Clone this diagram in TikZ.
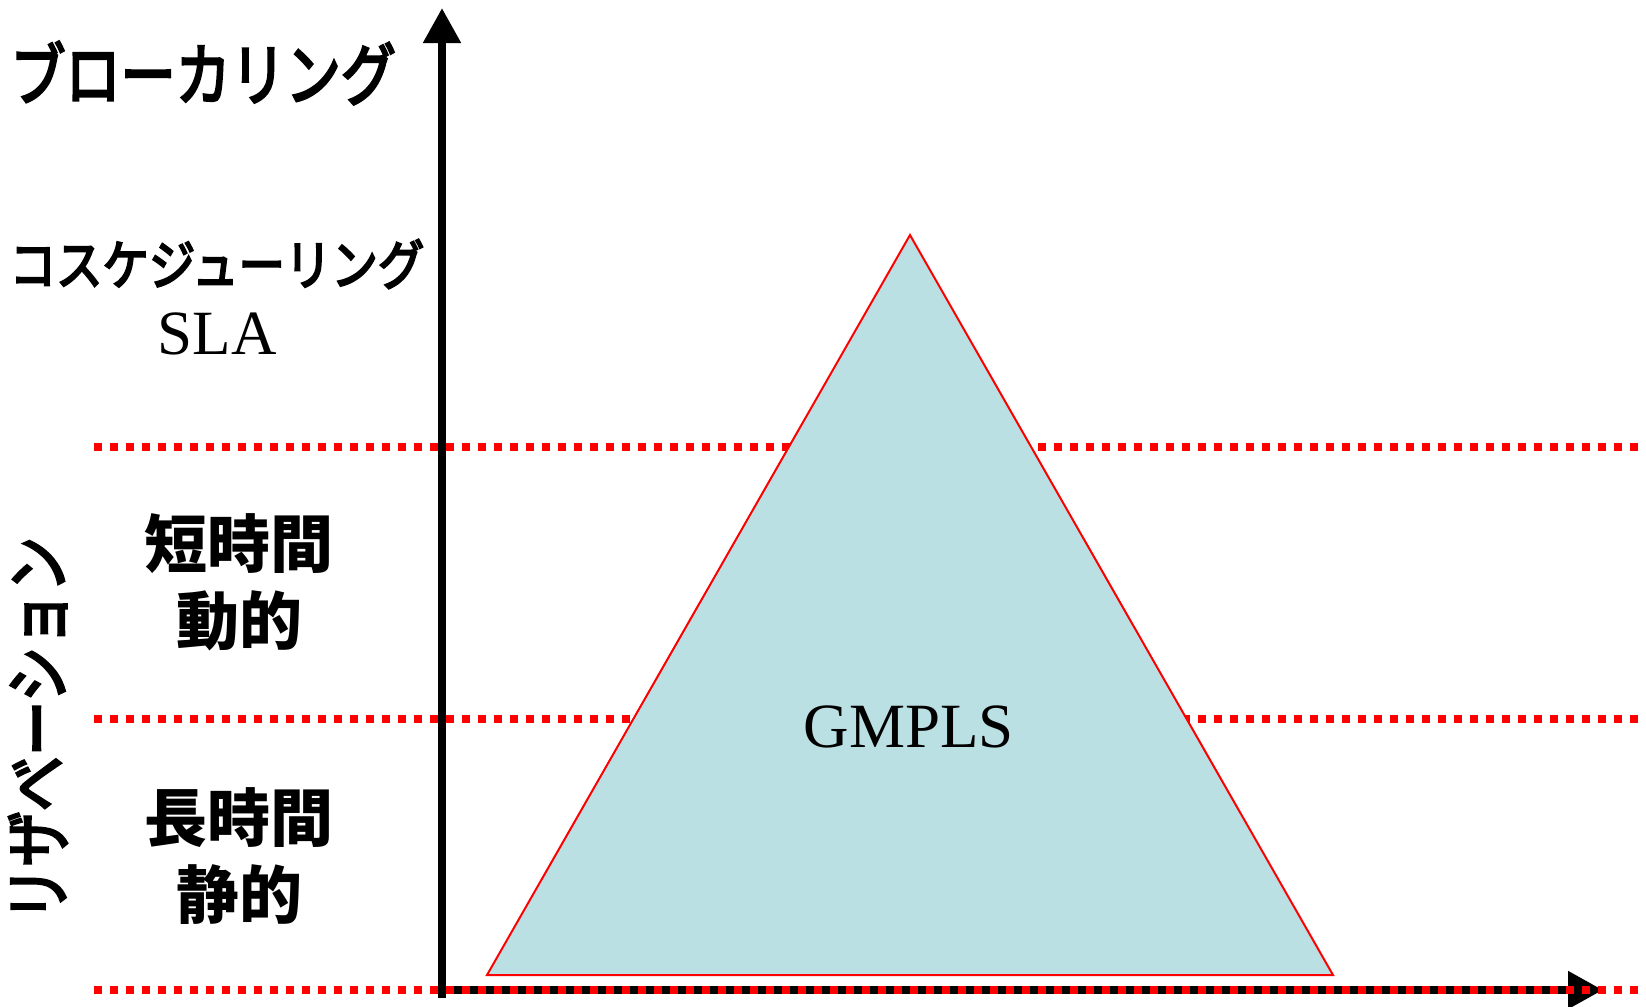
\documentclass[tikz,border=0pt]{standalone}
\usepackage{graphicx}
\usepackage{fontspec}
\setmainfont{Liberation Serif}
\newfontfamily\jp{Noto Sans CJK JP}
\newfontface\jpk{Noto Sans CJK JP}[FakeBold=4]
\usetikzlibrary{arrows.meta}

\definecolor{pyramidfill}{RGB}{187,224,227}
\definecolor{bandred}{RGB}{255,0,0}

% katakana set tall and narrow
\newcommand{\narrowkana}[2]{\scalebox{#1}[1]{#2}}

\begin{document}
\begin{tikzpicture}[x=0.5pt,y=-0.5pt,
  axis/.style={line width=4pt,draw=black,-{Triangle[width=18pt,length=17.5pt]}},
  bandline/.style={line width=3.7pt,draw=bandred,dash pattern=on 4pt off 4pt},
  pyramid/.style={fill=pyramidfill,draw=bandred,line width=1pt,line join=miter},
  jplabel/.style={inner sep=0pt,font=\jpk\fontsize{34}{40}\selectfont},
  jpsmall/.style={inner sep=0pt,font=\jpk\fontsize{27}{32}\selectfont},
  kanji/.style={inner sep=0pt,align=center,font=\jp\bfseries\fontsize{31.5}{38.5}\selectfont},
  latin/.style={inner sep=0pt,font=\fontsize{31.5}{38}\selectfont}]

\useasboundingbox (0,0) rectangle (1646,1007);

% axes corner and tips
\coordinate (origin) at (442,990);
\coordinate (xstart) at (438,990);
\coordinate (ytip) at (442,8);
\coordinate (xtip) at (1603,990);

% horizontal axis (drawn first, the band line runs over it)
\draw[axis] (xstart) -- (xtip);

% band separators
\coordinate (b1l) at (94,447);  \coordinate (b1r) at (1646,447);
\coordinate (b2l) at (94,719);  \coordinate (b2r) at (1646,719);
\coordinate (b3l) at (94,990);  \coordinate (b3r) at (1646,990);
\draw[bandline] (b1l) -- (b1r);
\draw[bandline] (b2l) -- (b2r);
\draw[bandline] (b3l) -- (b3r);

% vertical axis
\draw[axis] ([yshift=-4pt]origin) -- (ytip);

% GMPLS pyramid
\coordinate (apex) at (910,235);
\coordinate (baseL) at (487,975);
\coordinate (baseR) at (1333,975);
\filldraw[pyramid] (baseL) -- (apex) -- (baseR) -- cycle;
\node[latin] (gmpls) at (909,727) {GMPLS};

% labels on the left
\node[jplabel,anchor=west] (brokering) at (10,73) {\narrowkana{0.81}{ブローカリング}};
\node[jpsmall] (cosched) at (217,264) {\narrowkana{0.86}{コスケジューリング}};
\node[latin] (sla) at (217,334) {SLA};
\node[kanji] (short) at (239,582) {短時間\\動的};
\node[kanji] (long) at (239,856) {長時間\\静的};
\node[inner sep=0pt,font=\jpk\fontsize{34}{40}\selectfont,rotate=90] (reservation) at (38,729) {\narrowkana{0.81}{リザベーション}};

\end{tikzpicture}
\end{document}
